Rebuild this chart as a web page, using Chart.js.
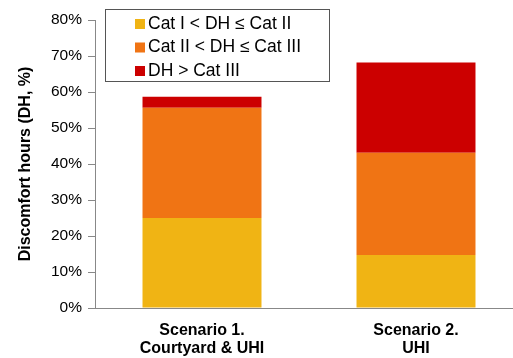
<!DOCTYPE html>
<html lang="en">
<head>
    <meta charset="UTF-8">
    <title>Discomfort hours</title>
    <script src="https://cdn.jsdelivr.net/npm/chart.js"></script>
    <style>
        body { margin: 0; background: #fff; overflow: hidden; }
        /* the original plot runs a little past the right edge of the picture */
        .chart-box { width: 523px; height: 358px; position: relative; }
    </style>
</head>
<body>
    <div class="chart-box">
        <canvas id="dhChart"></canvas>
    </div>

    <script>
        // Data (percent of hours)
        const scenarios = [['Scenario 1.', 'Courtyard & UHI'], ['Scenario 2.', 'UHI']];
        const catOneToTwo = [25.0, 14.7];
        const catTwoToThree = [30.6, 28.4];
        const aboveCatThree = [3.1, 25.1];
        const yTicks = [0, 10, 20, 30, 40, 50, 60, 70, 80];

        const fontFam = '"Liberation Sans", Arial, sans-serif';

        // legend box drawn inside the plot, with a thin frame
        const boxedLegend = {
            id: 'boxedLegend',
            afterDraw(chart) {
                const ctx = chart.ctx;
                const x0 = 105, y0 = 9, w = 224, h = 72;
                ctx.save();
                ctx.fillStyle = '#fff';
                ctx.fillRect(x0, y0, w, h);
                ctx.strokeStyle = '#555';
                ctx.lineWidth = 1;
                ctx.strokeRect(x0 + 0.5, y0 + 0.5, w, h);
                ctx.font = '17.5px ' + fontFam;
                ctx.textBaseline = 'middle';
                chart.data.datasets.forEach((ds, i) => {
                    const cy = y0 + 14 + i * 23.5;
                    ctx.fillStyle = ds.backgroundColor;
                    ctx.fillRect(x0 + 30, cy - 4, 10, 10);
                    ctx.fillStyle = '#000';
                    ctx.fillText(ds.label, x0 + 43, cy + 1);
                });
                ctx.restore();
            }
        };

        const ctx = document.getElementById('dhChart').getContext('2d');
        const dhChart = new Chart(ctx, {
            type: 'bar',
            data: {
                labels: scenarios,
                datasets: [
                    { label: 'Cat I < DH \u2264 Cat II', data: catOneToTwo, backgroundColor: '#F0B414' },
                    { label: 'Cat II < DH \u2264 Cat III', data: catTwoToThree, backgroundColor: '#F07414' },
                    { label: 'DH > Cat III', data: aboveCatThree, backgroundColor: '#CC0000' }
                ]
            },
            options: {
                responsive: true,
                maintainAspectRatio: false,
                animation: false,
                layout: { padding: { top: 20, right: 0, left: 0, bottom: 0 } },
                datasets: { bar: { categoryPercentage: 0.556, barPercentage: 1 } },
                scales: {
                    x: {
                        stacked: true,
                        afterFit: axis => { axis.height = 50; },
                        grid: { display: false },
                        border: { color: '#888', width: 1 },
                        ticks: {
                            color: '#000',
                            font: { family: fontFam, size: 16, weight: 'bold', lineHeight: 1.125 },
                            padding: 6
                        }
                    },
                    y: {
                        stacked: true,
                        min: 0,
                        max: 80,
                        afterBuildTicks: axis => { axis.ticks = yTicks.map(v => ({ value: v })); },
                        afterFit: axis => { axis.width = 95; },
                        grid: { drawOnChartArea: false, color: '#888', tickLength: 7 },
                        border: { color: '#888', width: 1 },
                        ticks: {
                            color: '#000',
                            font: { family: fontFam, size: 15.5 },
                            padding: 6,
                            callback: v => v + '%'
                        },
                        title: {
                            display: true,
                            text: 'Discomfort hours (DH, %)',
                            color: '#000',
                            font: { family: fontFam, size: 16, weight: 'bold' },
                            padding: { top: 16, bottom: 0 }
                        }
                    }
                },
                plugins: {
                    legend: { display: false },
                    tooltip: { enabled: false }
                }
            },
            plugins: [boxedLegend]
        });
    </script>
</body>
</html>
